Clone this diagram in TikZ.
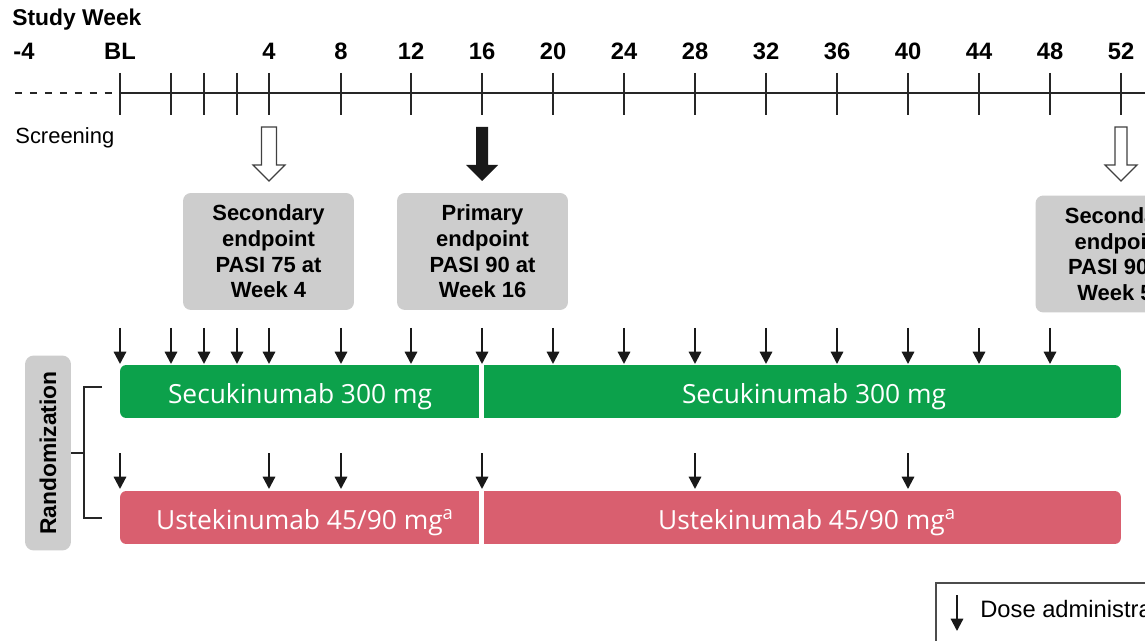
\documentclass[tikz,border=0pt]{standalone}
\usepackage{fontspec}
\setmainfont{Liberation Sans}
\newfontfamily\armfont{Open Sans}
\usetikzlibrary{arrows.meta}

\definecolor{secgreen}{HTML}{0CA14B}
\definecolor{ustred}{HTML}{D95F6F}
\definecolor{boxgray}{HTML}{CDCDCD}

% fat arrow from the time axis down to an endpoint box
\newcommand{\blockarrow}[3]{%
  \path[#2] (#1-#3,127) -- (#1+#3,127) -- (#1+#3,165) -- (#1+16,165)
    -- (#1,181) -- (#1-16,165) -- (#1-#3,165) -- cycle;}

\begin{document}
\begin{tikzpicture}[x=0.02cm, y=-0.02cm,
    axis/.style={line width=1.1pt, black!85},
    tickmark/.style={line width=0.9pt, black!85},
    weeklabel/.style={font=\fontsize{13.5}{16}\selectfont\bfseries, inner sep=0pt, anchor=base},
    endpoint/.style={fill=boxgray, rounded corners=4.5pt, minimum width=3.42cm,
                     minimum height=2.34cm, align=center,
                     font=\fontsize{12.5}{14.6}\selectfont\bfseries},
    hollow/.style={draw=black!75, fill=white, line width=0.7pt},
    filledarrow/.style={fill=black!90},
    armbar/.style={rounded corners=3.5pt, minimum width=20.02cm, minimum height=1.06cm},
    armtext/.style={text=white, font=\armfont\fontsize{15}{18}\selectfont, inner sep=0pt, anchor=base},
    dose/.style={-{Triangle[length=7pt,width=7pt]}, line width=1.25pt, black!90},
    gap/.style={white, line width=2.8pt},
    bracket/.style={line width=1.1pt, black!85}
  ]
  \useasboundingbox (0,0) rectangle (1145,641);
  \clip (0,0) rectangle (1145,641);

  % time axis
  \node[font=\fontsize{13}{15}\selectfont\bfseries, inner sep=0pt, anchor=base west] (title) at (12,26) {Study Week};
  \draw[line width=1pt, black!85, dash pattern=on 4pt off 4.5pt] (15,93) -- (113,93);
  \draw[axis] (120,93) -- (1145,93);
  \foreach \x in {120,171,204,237,269,341,411,482,553,624,695,766,837,908,979,1050,1121}
    \draw[tickmark] (\x,73) -- (\x,115);
  \node[weeklabel] (wm4) at (24,60) {-4};
  \node[weeklabel] (wbl) at (120,60) {BL};
  \foreach \x/\w in {269/4,341/8,411/12,482/16,553/20,624/24,695/28,766/32,837/36,908/40,979/44,1050/48,1121/52}
    \node[weeklabel] (w\w) at (\x,60) {\w};
  \node[font=\fontsize{12.5}{15}\selectfont, inner sep=0pt, anchor=base west] (screen) at (15,144) {Screening};

  % endpoints
  \blockarrow{269}{hollow}{7.5}
  \blockarrow{482}{filledarrow}{6}
  \blockarrow{1121}{hollow}{6}
  \node[endpoint] (ep4) at (268.5,251.5) {Secondary\\endpoint\\PASI 75 at\\Week 4};
  \node[endpoint] (ep16) at (482.5,251.5) {Primary\\endpoint\\PASI 90 at\\Week 16};
  \node[endpoint] (ep52) at (1121,254) {Secondary\\endpoint\\PASI 90 at\\Week 52};

  % treatment arms
  \node[armbar, fill=secgreen] (secbar) at (620.5,391.5) {};
  \node[armbar, fill=ustred] (ustbar) at (620.5,517.5) {};
  \draw[gap] (481.5,360) -- (481.5,423);
  \draw[gap] (481.5,486) -- (481.5,549);
  \node[armtext] (sec1) at (300,403) {Secukinumab 300 mg};
  \node[armtext] (sec2) at (814,403) {Secukinumab 300 mg};
  \node[armtext] (ust1) at (305,529) {Ustekinumab 45/90 mg\textsuperscript{a}};
  \node[armtext] (ust2) at (807,529) {Ustekinumab 45/90 mg\textsuperscript{a}};

  \foreach \x in {120,171,204,237,269,341,411,482,553,624,695,766,837,908,979,1050}
    \draw[dose] (\x,328) -- (\x,364);
  \foreach \x in {120,269,341,482,695,908}
    \draw[dose] (\x,453) -- (\x,489);

  % randomization
  \node[fill=boxgray, rounded corners=5pt, rotate=90, minimum width=3.9cm, minimum height=0.92cm,
        font=\fontsize{13}{15}\selectfont\bfseries] (rand) at (48,453) {Randomization};
  \coordinate (brtop) at (102,387);
  \coordinate (brmid) at (84,453);
  \coordinate (brbot) at (102,518);
  \draw[bracket] (brtop) -| (brmid) |- (brbot);
  \draw[bracket] (rand.south) -- (brmid);

  % legend
  \draw[line width=0.6pt, black!70] (936,583) rectangle (1200,700);
  \draw[dose] (957,595) -- (957,631);
  \node[font=\fontsize{13.5}{16}\selectfont, inner sep=0pt, anchor=base west] (legtext) at (980,617) {Dose administration};
\end{tikzpicture}
\end{document}
